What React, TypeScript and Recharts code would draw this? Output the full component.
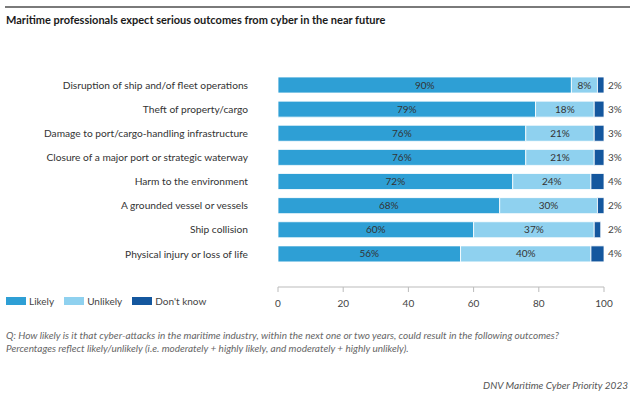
import { BarChart, Bar, XAxis, YAxis, LabelList } from 'recharts'

const categories = [
  'Disruption of ship and/of fleet operations',
  'Theft of property/cargo',
  'Damage to port/cargo-handling infrastructure',
  'Closure of a major port or strategic waterway',
  'Harm to the environment',
  'A grounded vessel or vessels',
  'Ship collision',
  'Physical injury or loss of life',
]
const likely = [90, 79, 76, 76, 72, 68, 60, 56]
const unlikely = [8, 18, 21, 21, 24, 30, 37, 40]
const dontKnow = [2, 3, 3, 3, 4, 2, 2, 4]
const xTicks = [0, 20, 40, 60, 80, 100]

const COLORS = { likely: '#2e9fd5', unlikely: '#8fd1ef', dontKnow: '#14579e' }
const FONT = 'Lato, "Noto Sans", sans-serif'

const data = categories.map((name, i) => ({
  name,
  likely: likely[i],
  unlikely: unlikely[i],
  dontKnow: dontKnow[i],
}))

const legendItems = [
  { label: 'Likely', color: COLORS.likely },
  { label: 'Unlikely', color: COLORS.unlikely },
  { label: "Don't know", color: COLORS.dontKnow },
]

// single-line category label (the default tick wraps long text)
function CategoryTick(props: any) {
  const { x, y, payload } = props
  return (
    <text x={x} y={y} dy="0.35em" textAnchor="end" fontSize={10.2} fill="#333" fontFamily={FONT}>
      {payload.value}
    </text>
  )
}

function DontKnowTick(props: any) {
  const { x, y, index } = props
  return (
    <text x={x} y={y} dy="0.35em" textAnchor="start" fontSize={10} fill="#444" fontFamily={FONT}>
      {`${dontKnow[index]}%`}
    </text>
  )
}

const pctLabel = (v: any) => `${v}%`

export default function App() {
  return (
    <div
      style={{
        position: 'absolute',
        left: 0,
        top: 0,
        width: 636,
        height: 399,
        background: '#fff',
        fontFamily: FONT,
        overflow: 'hidden',
      }}
    >
      <div style={{ position: 'absolute', left: 5, right: 6, top: 6, borderTop: '2px solid #7a7a7a' }} />
      <div
        style={{
          position: 'absolute',
          left: 6,
          top: 13,
          fontSize: 11,
          fontWeight: 700,
          color: '#1a1a1a',
          whiteSpace: 'nowrap',
        }}
      >
        Maritime professionals expect serious outcomes from cyber in the near future
      </div>

      <div style={{ position: 'absolute', left: 0, top: 0 }}>
        <BarChart
          width={636}
          height={320}
          data={data}
          layout="vertical"
          margin={{ top: 73, right: 0, bottom: 3, left: 0 }}
          barSize={16}
        >
          <XAxis
            type="number"
            domain={[0, 100]}
            ticks={xTicks}
            height={30}
            axisLine={{ stroke: '#bbb' }}
            tickLine={{ stroke: '#bbb' }}
            tickSize={5}
            tickMargin={8}
            tick={{ fontSize: 10, fill: '#444', fontFamily: FONT }}
          />
          <YAxis
            yAxisId="left"
            type="category"
            dataKey="name"
            width={278}
            axisLine={false}
            tickLine={false}
            tickSize={0}
            tickMargin={30}
            padding={{ top: 0, bottom: 21 }}
            tick={<CategoryTick />}
          />
          <YAxis
            yAxisId="right"
            orientation="right"
            type="category"
            dataKey="name"
            width={32}
            axisLine={false}
            tickLine={false}
            tickSize={0}
            tickMargin={4}
            padding={{ top: 0, bottom: 21 }}
            tick={<DontKnowTick />}
          />
          <Bar yAxisId="left" dataKey="likely" name="Likely" stackId="a" fill={COLORS.likely} stroke="#ffffff" strokeWidth={0.8} isAnimationActive={false}>
            <LabelList dataKey="likely" position="center" formatter={pctLabel} style={{ fontSize: 10, fill: '#333', fontFamily: FONT }} />
          </Bar>
          <Bar yAxisId="left" dataKey="unlikely" name="Unlikely" stackId="a" fill={COLORS.unlikely} stroke="#ffffff" strokeWidth={0.8} isAnimationActive={false}>
            <LabelList dataKey="unlikely" position="center" formatter={pctLabel} style={{ fontSize: 10, fill: '#333', fontFamily: FONT }} />
          </Bar>
          <Bar yAxisId="left" dataKey="dontKnow" name="Don't know" stackId="a" fill={COLORS.dontKnow} stroke="#ffffff" strokeWidth={0.8} isAnimationActive={false} />
        </BarChart>
      </div>

      <div
        style={{
          position: 'absolute',
          left: 6,
          top: 295,
          display: 'flex',
          alignItems: 'center',
          fontSize: 10,
          color: '#444',
        }}
      >
        {legendItems.map((it) => (
          <div key={it.label} style={{ display: 'flex', alignItems: 'center', marginRight: 10 }}>
            <span style={{ display: 'inline-block', width: 20, height: 8, background: it.color, marginRight: 3 }} />
            <span>{it.label}</span>
          </div>
        ))}
      </div>

      <div
        style={{
          position: 'absolute',
          left: 6,
          top: 329,
          fontSize: 10,
          fontStyle: 'italic',
          color: '#666',
          lineHeight: '13px',
          whiteSpace: 'nowrap',
        }}
      >
        <div>Q: How likely is it that cyber-attacks in the maritime industry, within the next one or two years, could result in the following outcomes?</div>
        <div>Percentages reflect likely/unlikely (i.e. moderately + highly likely, and moderately + highly unlikely).</div>
      </div>

      <div
        style={{
          position: 'absolute',
          right: 8,
          top: 379,
          fontSize: 10,
          fontStyle: 'italic',
          color: '#555',
          whiteSpace: 'nowrap',
        }}
      >
        DNV Maritime Cyber Priority 2023
      </div>
    </div>
  )
}
